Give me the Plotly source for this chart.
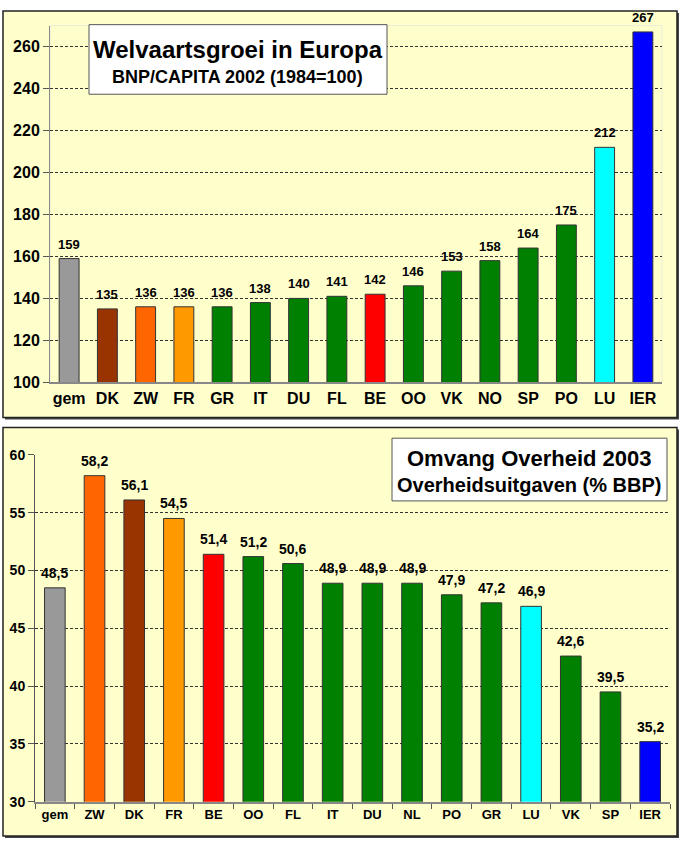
import plotly.graph_objects as go

# ---- data ----
cat_top = ["gem", "DK", "ZW", "FR", "GR", "IT", "DU", "FL", "BE", "OO", "VK", "NO", "SP", "PO", "LU", "IER"]
val_top = [159, 135, 136, 136, 136, 138, 140, 141, 142, 146, 153, 158, 164, 175, 212, 267]

cat_bot = ["gem", "ZW", "DK", "FR", "BE", "OO", "FL", "IT", "DU", "NL", "PO", "GR", "LU", "VK", "SP", "IER"]
val_bot = [48.5, 58.2, 56.1, 54.5, 51.4, 51.2, 50.6, 48.9, 48.9, 48.9, 47.9, 47.2, 46.9, 42.6, 39.5, 35.2]

title_top = "Welvaartsgroei in Europa"
sub_top = "BNP/CAPITA 2002 (1984=100)"
title_bot = "Omvang Overheid 2003"
sub_bot = "Overheidsuitgaven (% BBP)"

# ---- styles ----
palette = {"gem": "#999999", "DK": "#993300", "ZW": "#FF6600", "FR": "#FF9900",
           "BE": "#FF0000", "LU": "#00FFFF", "IER": "#0000FF"}
GREEN = "#008000"
col_top = [palette.get(c, GREEN) for c in cat_top]
col_bot = [palette.get(c, GREEN) for c in cat_bot]

W, H = 680, 848
FONT = "Arial, Liberation Sans, sans-serif"


def px(x):
    return x / W


def py(y):
    return 1 - y / H


fig = go.Figure()
fig.add_trace(go.Bar(
    x=cat_top, y=val_top, xaxis="x", yaxis="y",
    marker=dict(color=col_top, line=dict(color="#333333", width=1)),
    showlegend=False, hoverinfo="x+y",
))
fig.add_trace(go.Bar(
    x=cat_bot, y=val_bot, xaxis="x2", yaxis="y2",
    marker=dict(color=col_bot, line=dict(color="#333333", width=1)),
    showlegend=False, hoverinfo="x+y",
))

# value labels above the bars (placed through the data axes)
for c, v in zip(cat_top, val_top):
    fig.add_annotation(x=c, y=v, xref="x", yref="y", text=f"{v:.0f}", showarrow=False,
                       yanchor="bottom", yshift=5,
                       font=dict(family=FONT, size=13, color="black", weight="bold"))
for c, v in zip(cat_bot, val_bot):
    fig.add_annotation(x=c, y=v, xref="x2", yref="y2", text=f"{v:.1f}".replace(".", ","),
                       showarrow=False, yanchor="bottom", yshift=5,
                       font=dict(family=FONT, size=14, color="black", weight="bold"))

grid = dict(showgrid=True, gridcolor="#333333", gridwidth=1, griddash="3px,2px")

fig.update_layout(
    width=W, height=H, margin=dict(l=0, r=0, t=0, b=0),
    paper_bgcolor="white", plot_bgcolor="rgba(0,0,0,0)",
    separators=",.", bargap=0.48,
    font=dict(family=FONT, color="black"),
    xaxis=dict(domain=[px(50), px(662)], anchor="y", showline=True, linecolor="#888888",
               linewidth=2, ticks="", showgrid=False,
               tickfont=dict(family=FONT, size=16, weight="bold")),
    yaxis=dict(domain=[py(382), py(18)], anchor="x", range=[100, 270], tick0=100, dtick=20,
               showline=True, linecolor="#888888", linewidth=1, ticks="outside", ticklen=6,
               tickcolor="#555555", zeroline=False,
               tickfont=dict(family=FONT, size=16, weight="bold"), **grid),
    xaxis2=dict(domain=[px(35), px(670)], anchor="y2", showline=True, linecolor="#888888",
                linewidth=2, ticks="outside", tickson="boundaries", ticklen=5,
                tickcolor="#555555", showgrid=False,
                tickfont=dict(family=FONT, size=13, weight="bold")),
    yaxis2=dict(domain=[py(810), py(456)], anchor="x2", range=[30, 60], tick0=30, dtick=5,
                showline=True, linecolor="#555555", linewidth=1, ticks="outside", ticklen=6,
                tickcolor="#555555", zeroline=False,
                tickfont=dict(family=FONT, size=14, weight="bold"), **grid),
)

shapes = [
    # panel shadows
    dict(type="rect", xref="paper", yref="paper", x0=px(5), x1=px(679), y0=py(420), y1=py(5),
         fillcolor="#444444", line=dict(width=0), layer="below"),
    dict(type="rect", xref="paper", yref="paper", x0=px(5), x1=px(679), y0=py(847), y1=py(430),
         fillcolor="#444444", line=dict(width=0), layer="below"),
    # panel backgrounds
    dict(type="rect", xref="paper", yref="paper", x0=px(3), x1=px(677), y0=py(418), y1=py(3),
         fillcolor="#FFFFCC", line=dict(color="#222222", width=1.5), layer="below"),
    dict(type="rect", xref="paper", yref="paper", x0=px(3), x1=px(677), y0=py(845), y1=py(428),
         fillcolor="#FFFFCC", line=dict(color="#222222", width=1.5), layer="below"),
    # faint plot-area frame of the upper chart
    dict(type="rect", xref="x domain", yref="y domain", x0=0, x1=1, y0=0, y1=1,
         line=dict(color="#EAEAD8", width=1), layer="below"),
    # title boxes
    dict(type="rect", xref="paper", yref="paper", x0=px(89), x1=px(387), y0=py(88), y1=py(17),
         fillcolor="white", line=dict(color="#555555", width=1), layer="above"),
    dict(type="rect", xref="paper", yref="paper", x0=px(392), x1=px(667), y0=py(503), y1=py(439),
         fillcolor="white", line=dict(color="#555555", width=1), layer="above"),
]
fig.update_layout(shapes=shapes)

ann = [
    dict(text=title_top, x=px(238), y=py(42), size=24),
    dict(text=sub_top, x=px(238), y=py(70), size=18),
    dict(text=title_bot, x=px(529), y=py(460), size=22),
    dict(text=sub_bot, x=px(529), y=py(487), size=20),
]
for a in ann:
    fig.add_annotation(text=a["text"], x=a["x"], y=a["y"], xref="paper", yref="paper",
                       xanchor="center", yanchor="middle", showarrow=False,
                       font=dict(family=FONT, size=a["size"], color="black", weight="bold"))

css = ("margin:0;padding:0;overflow:hidden;height:848px;width:680px;")
fig.write_html(
    "out.html",
    config={"displayModeBar": False},
    post_script=("document.documentElement.style.cssText='" + css + "';"
                 "document.body.style.cssText='" + css + "';"),
)
